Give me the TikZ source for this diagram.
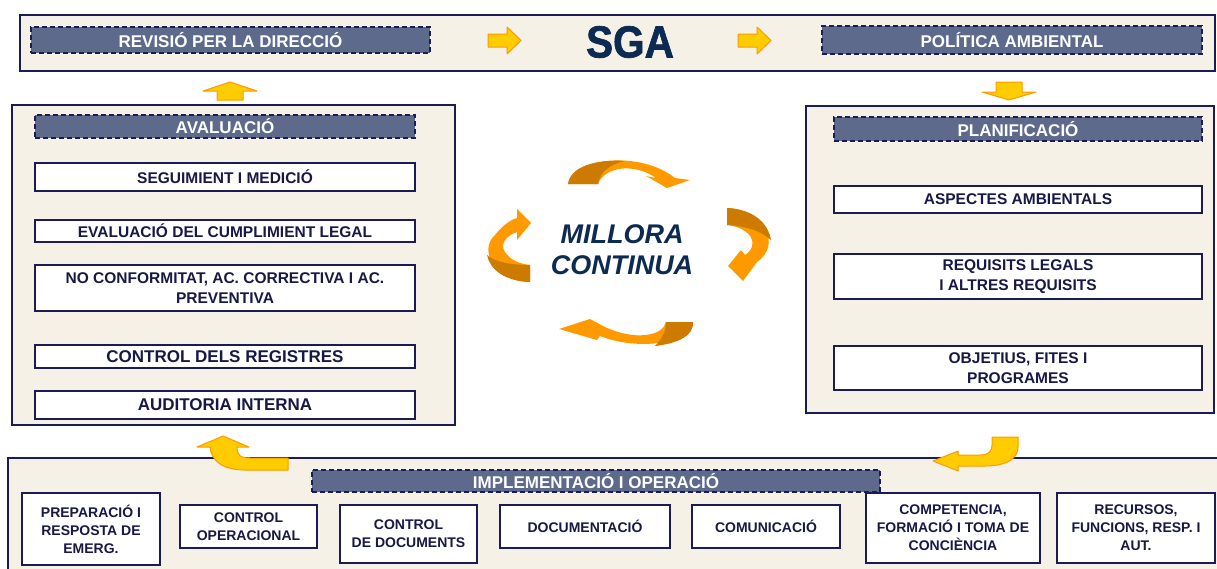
\documentclass[tikz,border=0pt]{standalone}
\usepackage{fontspec}
\setmainfont{Liberation Sans}
\newfontfamily\sgafont[FakeStretch=0.9, FakeBold=1.5]{Liberation Sans Bold}
\definecolor{cream}{RGB}{245,241,231}
\definecolor{navy}{RGB}{28,28,84}
\definecolor{hdr}{RGB}{93,106,140}
\definecolor{txt}{RGB}{24,24,70}
\definecolor{sga}{RGB}{12,42,82}
\definecolor{yel}{RGB}{255,204,0}
\definecolor{yelo}{RGB}{255,153,0}
\definecolor{org}{RGB}{255,153,0}
\definecolor{orgd}{RGB}{204,122,0}
\begin{document}
\begin{tikzpicture}[x=1pt,y=-1pt,
  panel/.style={draw=navy, line width=1.8pt, fill=cream, inner sep=0},
  hdrbox/.style={draw=navy, dash pattern=on 5pt off 3pt, line width=1.6pt, fill=hdr, text=white, inner sep=0, font=\bfseries\fontsize{17}{19}\selectfont},
  wbox/.style={draw=navy, line width=1.4pt, fill=white, text=txt, align=center, inner sep=0},
  ftA/.style={font=\bfseries\fontsize{15.5}{20.5}\selectfont},
  ftB/.style={font=\bfseries\fontsize{17}{20}\selectfont},
  ftC/.style={font=\bfseries\fontsize{14}{18}\selectfont},
  yarrow/.style={fill=yel, draw=yelo, line width=1pt, line join=round},
  ribbon/.style={fill=org},
  ribbond/.style={fill=orgd}
]
\useasboundingbox (0,0) rectangle (1217,568);
\clip (0,0) rectangle (1217,568);

% panels
\node[panel, minimum width=1195pt, minimum height=56pt] (top) at (617.5,43) {};
\node[panel, minimum width=443pt, minimum height=320pt] (left) at (233.5,265) {};
\node[panel, minimum width=408pt, minimum height=307pt] (right) at (1010,259.5) {};
\node[panel, minimum width=1240pt, minimum height=140pt] (bottom) at (628,528) {};

% top row
\node[hdrbox, minimum width=399pt, minimum height=26pt] (rev) at (230.5,40) {REVISIÓ PER LA DIRECCIÓ};
\node[text=sga, font=\sgafont\fontsize{45}{48}\selectfont] (sgaT) at (630,42) {SGA};
\node[hdrbox, minimum width=380pt, minimum height=28pt] (pol) at (1012,40) {POLÍTICA AMBIENTAL};

% left panel
\node[hdrbox, minimum width=380pt, minimum height=23pt] (aval) at (225,126.5) {AVALUACIÓ};
\node[wbox, ftA, minimum width=380pt, minimum height=28pt] (s1) at (225,177) {SEGUIMIENT I MEDICIÓ};
\node[wbox, ftA, minimum width=380pt, minimum height=22pt] (s2) at (225,231) {EVALUACIÓ DEL CUMPLIMIENT LEGAL};
\node[wbox, ftA, minimum width=380pt, minimum height=46pt] (s3) at (225,288) {NO CONFORMITAT, AC. CORRECTIVA I AC.\\PREVENTIVA};
\node[wbox, ftB, minimum width=380pt, minimum height=23pt] (s4) at (225,356.5) {CONTROL DELS REGISTRES};
\node[wbox, ftB, minimum width=380pt, minimum height=28pt] (s5) at (225,405) {AUDITORIA INTERNA};

% right panel
\node[hdrbox, minimum width=368pt, minimum height=24pt] (plan) at (1018,129) {PLANIFICACIÓ};
\node[wbox, ftA, minimum width=368pt, minimum height=27pt] (p1) at (1018,199.5) {ASPECTES AMBIENTALS};
\node[wbox, ftA, minimum width=368pt, minimum height=45pt] (p2) at (1018,276.5) {REQUISITS LEGALS\\I ALTRES REQUISITS};
\node[wbox, ftA, minimum width=368pt, minimum height=44pt] (p3) at (1018,368) {OBJETIUS, FITES I\\PROGRAMES};

% bottom panel
\node[hdrbox, minimum width=568pt, minimum height=22pt] (impl) at (596,481) {IMPLEMENTACIÓ I OPERACIÓ};
\node[wbox, ftC, minimum width=138pt, minimum height=72pt] (b1) at (91,529) {PREPARACIÓ I\\RESPOSTA DE\\EMERG.};
\node[wbox, ftC, minimum width=137pt, minimum height=43pt] (b2) at (248.5,526.5) {CONTROL\\OPERACIONAL};
\node[wbox, ftC, minimum width=137pt, minimum height=58pt] (b3) at (408.5,534) {CONTROL\\DE DOCUMENTS};
\node[wbox, ftC, minimum width=170pt, minimum height=43pt] (b4) at (585,526.5) {DOCUMENTACIÓ};
\node[wbox, ftC, minimum width=148pt, minimum height=43pt] (b5) at (766,526.5) {COMUNICACIÓ};
\node[wbox, ftC, minimum width=174pt, minimum height=70pt] (b6) at (953,528) {COMPETENCIA,\\FORMACIÓ I TOMA DE\\CONCIÈNCIA};
\node[wbox, ftC, minimum width=158pt, minimum height=70pt] (b7) at (1136,528) {RECURSOS,\\FUNCIONS, RESP. I\\AUT.};

% yellow block arrows
\filldraw[yarrow] (488,34) -- (507,34) -- (507,27) -- (521,40.5) -- (507,54) -- (507,47) -- (488,47) -- cycle;
\filldraw[yarrow] (738,34) -- (757,34) -- (757,27) -- (771,40.5) -- (757,54) -- (757,47) -- (738,47) -- cycle;
\filldraw[yarrow] (217,100) -- (217,91) -- (203,91) -- (230,82) -- (257,91) -- (243,91) -- (243,100) -- cycle;
\filldraw[yarrow] (996,82) -- (1022,82) -- (1022,92) -- (1036,92) -- (1009,100) -- (982,92) -- (996,92) -- cycle;
\filldraw[yarrow] (223,436) -- (249,447) -- (237,447) .. controls (237,455) and (240,458) .. (250,458) -- (288,458) -- (288,470) -- (245,470) .. controls (222,470) and (211,460) .. (210,447) -- (197,447) -- cycle;
\filldraw[yarrow] (992,437) -- (1018,437) -- (1018,447) .. controls (1018,462) and (1000,466) .. (985,466) -- (958,466) -- (958,471) -- (933,461) -- (958,451) -- (958,455) -- (980,455) .. controls (990,455) and (992,450) .. (992,445) -- cycle;

% ribbon arrows
% top
\fill[ribbon] (568,184) .. controls (572,158) and (640,150) .. (675,178) -- (690,180) -- (667,188) -- (646,176) -- (656,178) .. controls (635,163) and (605,166) .. (598,184) -- cycle;
\fill[ribbond] (568,184) .. controls (570,167) and (595,159) .. (625,161) .. controls (610,164) and (600,172) .. (598,184) -- cycle;
% right
\fill[ribbon] (727,208) .. controls (765,210) and (782,245) .. (757,262) -- (743,281) -- (728,266) -- (741,250) -- (745,255) .. controls (760,245) and (752,228) .. (727,225) -- cycle;
\fill[ribbond] (727,208) .. controls (752,209) and (768,222) .. (771,240) .. controls (762,232) and (748,226) .. (727,225) -- cycle;
% bottom
\fill[ribbon] (693,322) .. controls (695,342) and (640,352) .. (600,336) -- (597,340) -- (559,329) -- (590,319) -- (605,327) .. controls (635,341) and (663,336) .. (666,322) -- cycle;
\fill[ribbond] (693,322) .. controls (694,335) and (680,343) .. (655,346) .. controls (663,338) and (666,330) .. (666,322) -- cycle;
% left
\fill[ribbon] (530,282) .. controls (495,282) and (478,250) .. (495,235) .. controls (502,226) and (510,220) .. (517,218) -- (517,209) -- (531,223) -- (517,240) -- (517,232) .. controls (505,236) and (500,245) .. (505,252) .. controls (510,260) and (520,264) .. (530,265) -- cycle;
\fill[ribbond] (530,282) .. controls (505,281) and (490,270) .. (487,255) .. controls (495,262) and (510,265) .. (530,265) -- cycle;

\node[text=sga, align=center, font=\bfseries\itshape\fontsize{27}{31}\selectfont] (mc) at (622,250) {MILLORA\\CONTINUA};
\end{tikzpicture}
\end{document}
